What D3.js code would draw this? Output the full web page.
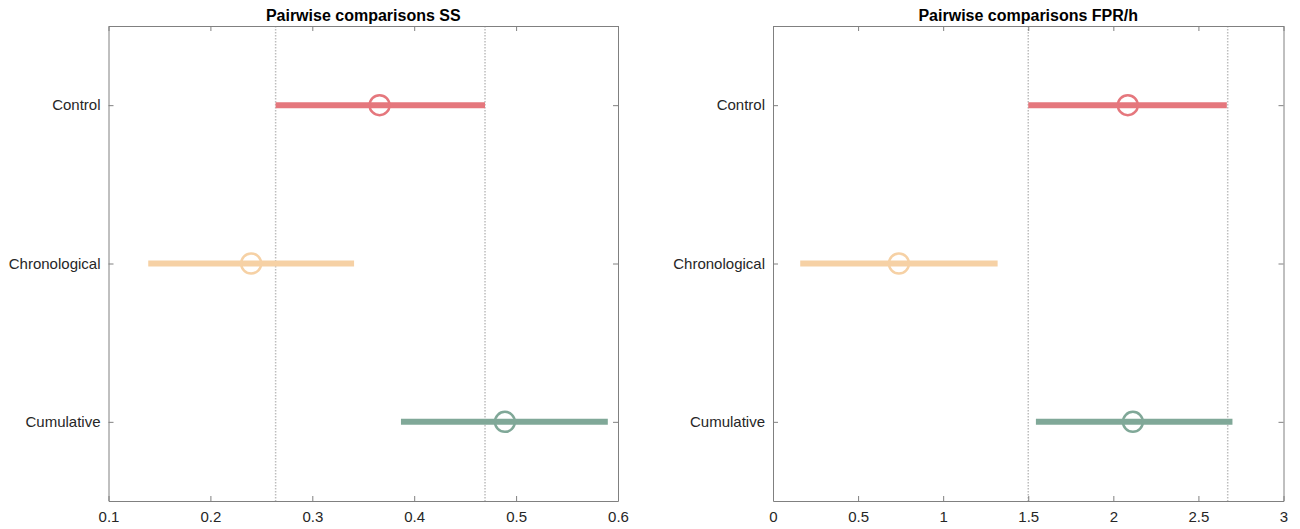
<!DOCTYPE html>
<html>
<head>
<meta charset="utf-8">
<script src="https://cdn.jsdelivr.net/npm/d3@7"></script>
<style>
  body { margin: 0; background: #fff; }
  svg text { font-family: "Liberation Sans", Arial, Helvetica, sans-serif; fill: #262626; }
  .title { font-weight: bold; font-size: 16px; fill: #000; }
</style>
</head>
<body>
<div id="chart"></div>
<script>
// groups, top to bottom
var groups = ["Control", "Chronological", "Cumulative"];
var colors = ["#e5777d", "#f6d1a5", "#80a898"];

// SS panel
var ssLow = [0.264, 0.139, 0.387],
    ssMean = [0.366, 0.240, 0.489],
    ssHigh = [0.4695, 0.341, 0.590],
    ssRef = [0.264, 0.4695],
    ssTicks = [0.1, 0.2, 0.3, 0.4, 0.5, 0.6];

// FPR/h panel
var fprLow = [1.50, 0.16, 1.545],
    fprMean = [2.085, 0.74, 2.115],
    fprHigh = [2.667, 1.32, 2.70],
    fprRef = [1.50, 2.672],
    fprTicks = [0, 0.5, 1, 1.5, 2, 2.5, 3];

var svg = d3.select("#chart")
    .append("svg")
    .attr("width", 1300)
    .attr("height", 529);

var plotTop = 26, plotBottom = 501;

function panel(left, right, title, domain, ticks, low, mean, high, ref) {
  var x = d3.scaleLinear().domain(domain).range([left, right]);
  var y = d3.scalePoint().domain(groups).range([plotTop, plotBottom]).padding(0.5);
  var g = svg.append("g");

  // reference lines
  g.selectAll(".ref")
    .data(ref)
    .enter().append("line")
      .attr("x1", function(d) { return x(d); })
      .attr("x2", function(d) { return x(d); })
      .attr("y1", plotTop)
      .attr("y2", plotBottom)
      .attr("stroke", "#bdbdbd")
      .attr("stroke-width", 1.5)
      .attr("stroke-dasharray", "1.5,1.5");

  // intervals
  g.selectAll(".ci")
    .data(groups)
    .enter().append("line")
      .attr("x1", function(d, i) { return x(low[i]); })
      .attr("x2", function(d, i) { return x(high[i]); })
      .attr("y1", function(d) { return y(d); })
      .attr("y2", function(d) { return y(d); })
      .attr("stroke", function(d, i) { return colors[i]; })
      .attr("stroke-width", 6);

  g.selectAll(".mean")
    .data(groups)
    .enter().append("circle")
      .attr("cx", function(d, i) { return x(mean[i]); })
      .attr("cy", function(d) { return y(d); })
      .attr("r", 10)
      .attr("fill", "none")
      .attr("stroke", function(d, i) { return colors[i]; })
      .attr("stroke-width", 2.5);

  // box and axes
  g.append("g")
      .attr("transform", "translate(0," + plotBottom + ")")
      .call(d3.axisBottom(x).tickValues(ticks).tickSizeInner(-5).tickSizeOuter(0).tickPadding(10)
        .tickFormat(d3.format("")))
      .call(styleAxis);
  g.append("g")
      .attr("transform", "translate(0," + plotTop + ")")
      .call(d3.axisTop(x).tickValues(ticks).tickSizeInner(-5).tickSizeOuter(0).tickFormat(""))
      .call(styleAxis);
  g.append("g")
      .attr("transform", "translate(" + left + ",0)")
      .call(d3.axisLeft(y).tickSizeInner(-5).tickSizeOuter(0).tickPadding(8))
      .call(styleAxis);
  g.append("g")
      .attr("transform", "translate(" + right + ",0)")
      .call(d3.axisRight(y).tickSizeInner(-5).tickSizeOuter(0).tickFormat(""))
      .call(styleAxis);

  g.append("text")
      .attr("class", "title")
      .attr("x", (left + right) / 2)
      .attr("y", 21)
      .attr("text-anchor", "middle")
      .text(title);
}

function styleAxis(a) {
  a.select(".domain").attr("stroke", "#808080").attr("stroke-width", 1);
  a.selectAll(".tick line").attr("stroke", "#808080");
  a.selectAll(".tick text").attr("font-size", 15).attr("fill", "#262626");
}

panel(108.5, 618, "Pairwise comparisons SS", [0.1, 0.6], ssTicks, ssLow, ssMean, ssHigh, ssRef);
panel(773, 1283.5, "Pairwise comparisons FPR/h", [0, 3], fprTicks, fprLow, fprMean, fprHigh, fprRef);
</script>
</body>
</html>
